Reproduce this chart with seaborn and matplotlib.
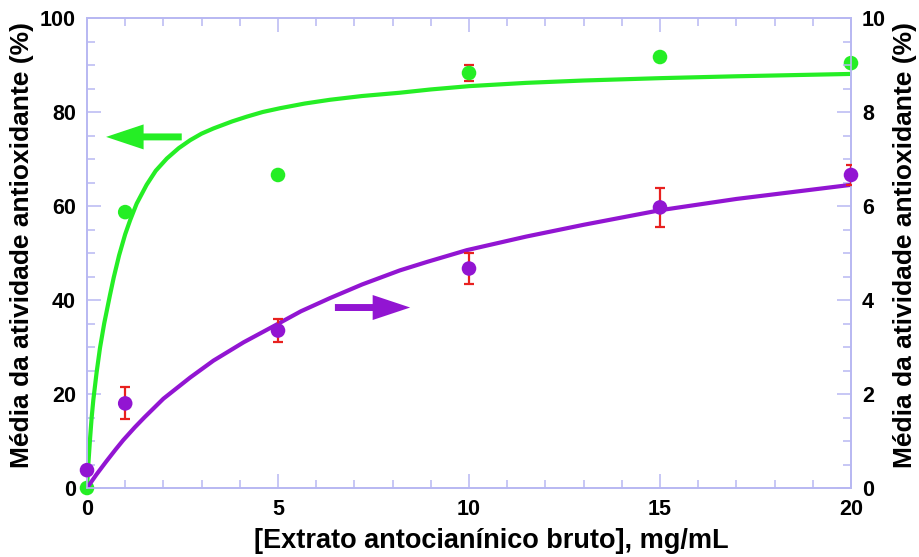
import matplotlib
matplotlib.use("Agg")
import matplotlib.pyplot as plt
import matplotlib.ticker as mticker
import pandas as pd
import seaborn as sns

# Measured means (left axis: green series in %, right axis: purple series)
conc = [0, 1, 5, 10, 15, 20]
green_mean = [0.0, 58.7, 66.6, 88.3, 91.7, 90.4]
green_err = [0.0, 0.0, 0.0, 1.6, 0.0, 0.0]
purple_mean = [0.38, 1.80, 3.35, 4.67, 5.97, 6.66]
purple_err = [0.0, 0.34, 0.24, 0.32, 0.41, 0.22]

# Fitted saturation curves
green_fit_x = [0, 0.03, 0.08, 0.12, 0.165, 0.25, 0.34, 0.45, 0.6, 0.7, 0.84, 1.0, 1.13,
               1.3, 1.56, 1.8, 2.09, 2.4, 2.7, 3.0, 3.31, 3.8, 4.18, 4.6, 5.05, 5.7,
               6.36, 7.2, 8.19, 9.0, 10.0, 11.5, 13.0, 15.0, 17.0, 20.0]
green_fit_y = [0, 4.5, 10.5, 14.8, 18.7, 24.5, 29.8, 35.0, 41.0, 44.8, 49.5, 54.0, 57.0,
               60.5, 64.5, 67.5, 70.1, 72.3, 74.0, 75.4, 76.5, 78.0, 79.0, 80.0, 80.8,
               81.8, 82.6, 83.4, 84.1, 84.8, 85.5, 86.2, 86.7, 87.2, 87.6, 88.1]
purple_fit_x = [0, 0.25, 0.5, 0.75, 0.95, 1.25, 1.5, 2.0, 2.7, 3.31, 4.1, 4.97, 5.6, 6.36,
                7.2, 8.19, 8.9, 9.94, 11.5, 13.0, 15.0, 17.0, 20.0]
purple_fit_y = [0, 0.29, 0.56, 0.82, 1.02, 1.29, 1.50, 1.90, 2.35, 2.71, 3.10, 3.48,
                3.76, 4.04, 4.33, 4.63, 4.81, 5.06, 5.35, 5.60, 5.91, 6.15, 6.45]

x_ticks = [0, 5, 10, 15, 20]
left_ticks = [0, 20, 40, 60, 80, 100]
right_ticks = [0, 2, 4, 6, 8, 10]

x_label = "[Extrato antocianínico bruto], mg/mL"
y_label = "Média da atividade antioxidante (%)"

GREEN = "#25ee25"
PURPLE = "#9215d2"
RED = "#e8211f"
FRAME = "#b8b8f2"

sns.set_theme(style="white")
plt.rcParams["font.family"] = ["Liberation Sans", "DejaVu Sans"]
plt.rcParams["font.weight"] = "bold"

fig, ax = plt.subplots(figsize=(9.19, 5.57), dpi=100)
fig.subplots_adjust(left=87 / 919, right=851 / 919, top=1 - 18 / 557, bottom=1 - 488 / 557)
ax2 = ax.twinx()

pts = pd.DataFrame({"conc": conc, "green": green_mean, "purple": purple_mean})
gfit = pd.DataFrame({"x": green_fit_x, "y": green_fit_y})
pfit = pd.DataFrame({"x": purple_fit_x, "y": purple_fit_y})

# Green series on the left axis
sns.lineplot(data=gfit, x="x", y="y", ax=ax, color=GREEN, lw=3, zorder=2)
ax.errorbar(conc, green_mean, yerr=green_err, fmt="none", ecolor=RED, elinewidth=1.6,
            capsize=3.5, capthick=1.6, zorder=3)
sns.scatterplot(data=pts, x="conc", y="green", ax=ax, color=GREEN, s=110,
                edgecolor="none", zorder=4, clip_on=False)

# Purple series on the right axis
sns.lineplot(data=pfit, x="x", y="y", ax=ax2, color=PURPLE, lw=3, zorder=2)
ax2.errorbar(conc, purple_mean, yerr=purple_err, fmt="none", ecolor=RED, elinewidth=1.6,
             capsize=3.5, capthick=1.6, zorder=3)
sns.scatterplot(data=pts, x="conc", y="purple", ax=ax2, color=PURPLE, s=110,
                edgecolor="none", zorder=4, clip_on=False)

# Arrows pointing to the axis each curve belongs to
arrow_style = "simple,head_length=27,head_width=18,tail_width=5"
ax.annotate("", xy=(0.5, 74.7), xytext=(2.48, 74.7),
            arrowprops=dict(arrowstyle=arrow_style, color=GREEN, mutation_scale=1,
                            shrinkA=0, shrinkB=0, lw=0))
ax2.annotate("", xy=(8.46, 3.84), xytext=(6.49, 3.84),
             arrowprops=dict(arrowstyle=arrow_style, color=PURPLE, mutation_scale=1,
                             shrinkA=0, shrinkB=0, lw=0))

# Axes limits and ticks
ax.set_xlim(0, 20)
ax.set_ylim(0, 100)
ax2.set_ylim(0, 10)
ax.set_xticks(x_ticks)
ax.set_yticks(left_ticks)
ax2.set_yticks(right_ticks)
ax.xaxis.set_minor_locator(mticker.MultipleLocator(1))
ax.yaxis.set_minor_locator(mticker.MultipleLocator(5))
ax2.yaxis.set_minor_locator(mticker.MultipleLocator(0.5))

for a in (ax, ax2):
    for s in a.spines.values():
        s.set_color(FRAME)
        s.set_linewidth(1.2)
    a.tick_params(which="both", direction="in", color=FRAME, width=1.1,
                  labelsize=15.5, labelcolor="black")
    a.tick_params(which="major", length=10)
    a.tick_params(which="minor", length=6)
    for lbl in a.get_xticklabels() + a.get_yticklabels():
        lbl.set_fontweight("bold")

ax.tick_params(axis="x", which="both", top=True, bottom=True, pad=8)
ax.tick_params(axis="y", which="both", left=True, right=False, pad=8)
ax2.tick_params(axis="y", which="both", right=True, left=False, pad=8)

ax.set_xlabel(x_label, fontsize=19.5, fontweight="bold", color="black", labelpad=8)
ax.xaxis.set_label_coords(0.529, -0.085, transform=ax.transAxes)
ax.xaxis.label.set_va("top")
ax.set_ylabel(y_label, fontsize=19, fontweight="bold", color="black", labelpad=2)
ax.yaxis.set_label_coords(-0.069, 0.517)
ax2.set_ylabel(y_label, fontsize=19, fontweight="bold", color="black", rotation=90,
               labelpad=6)
ax2.yaxis.set_label_coords(1.055, 0.517)

fig.savefig("out.png", dpi=100)
